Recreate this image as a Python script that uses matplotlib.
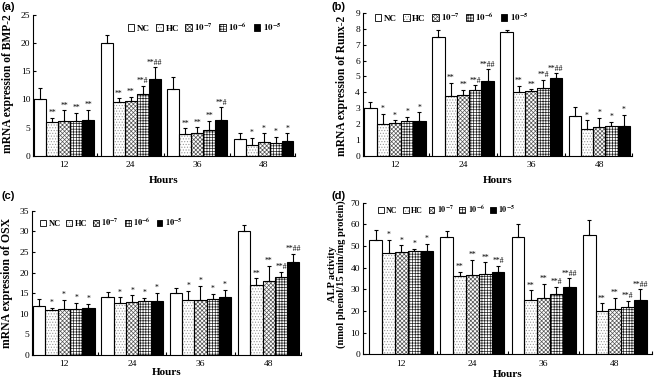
import matplotlib
matplotlib.use("Agg")
import matplotlib.pyplot as plt
from matplotlib.patches import Patch
import numpy as np

plt.rcParams['font.family'] = ['Liberation Serif', 'DejaVu Serif']
plt.rcParams['mathtext.fontset'] = 'stix'
plt.rcParams['hatch.linewidth'] = 0.5

hours = ["12", "24", "36", "48"]
series = ["NC", "HC", r"$\mathbf{10^{-7}}$", r"$\mathbf{10^{-6}}$", r"$\mathbf{10^{-5}}$"]

# values [time][series]
bmp_vals = [[10, 6.0, 6.1, 6.2, 6.4],
            [20, 9.6, 9.8, 11.0, 13.6],
            [11.9, 3.9, 4.0, 4.6, 6.4],
            [3.0, 2.0, 2.4, 2.3, 2.6]]
bmp_err = [[2.0, 0.8, 2.0, 1.4, 1.8],
           [1.5, 0.6, 0.7, 1.4, 2.1],
           [2.0, 1.0, 1.1, 1.6, 2.2],
           [1.0, 1.2, 1.6, 1.1, 1.4]]
bmp_sig = [["", "**", "**", "**", "**"],
           ["", "**", "**", "**#", "**##"],
           ["", "**", "**", "**", "**#"],
           ["", "*", "*", "*", "*"]]

runx_vals = [[3.0, 2.0, 2.1, 2.2, 2.2],
             [7.5, 3.8, 3.85, 4.15, 4.7],
             [7.8, 4.0, 4.1, 4.25, 4.9],
             [2.5, 1.7, 1.8, 1.9, 1.9]]
runx_err = [[0.4, 0.65, 0.15, 0.25, 0.55],
            [0.45, 0.8, 0.3, 0.3, 0.75],
            [0.1, 0.4, 0.1, 0.55, 0.3],
            [0.6, 0.55, 0.6, 0.25, 0.7]]
runx_sig = [["", "*", "*", "*", "*"],
            ["", "**", "**", "**#", "**##"],
            ["", "**", "**", "**#", "**##"],
            ["", "*", "*", "*", "*"]]

osx_vals = [[12, 11.0, 11.2, 11.2, 11.4],
            [14, 12.7, 12.9, 13.1, 13.1],
            [15, 13.3, 13.4, 13.7, 14.0],
            [30, 17.0, 18.0, 19.0, 22.5]]
osx_err = [[1.6, 0.4, 2.2, 1.4, 1.0],
           [1.2, 1.3, 1.6, 0.8, 2.0],
           [1.3, 2.3, 3.4, 1.2, 1.8],
           [1.5, 1.6, 3.6, 1.2, 2.0]]
osx_sig = [["", "*", "*", "*", "*"],
           ["", "*", "*", "*", "*"],
           ["", "*", "*", "*", "*"],
           ["", "**", "**", "**#", "**##"]]

alp_vals = [[53, 47, 47.3, 47.5, 47.5],
            [54, 36, 36.5, 37, 38],
            [54, 25, 26, 28, 31],
            [55, 20, 21, 22, 25]]
alp_err = [[4.5, 6.0, 3.0, 1.2, 3.5],
           [3.0, 2.0, 7.0, 5.5, 3.0],
           [6.0, 4.5, 6.5, 3.0, 4.0],
           [7.0, 3.5, 5.0, 2.5, 5.0]]
alp_sig = [["", "*", "*", "*", "*"],
           ["", "**", "**", "**", "**#"],
           ["", "**", "**", "**#", "**##"],
           ["", "**", "**", "**#", "**##"]]

# style per series: (facecolor, hatch, hatch color)
styles = [("white", None, "black"),
          ("white", "......", "#9a9a9a"),
          ("white", "xxxxxxxx", "#555555"),
          ("white", "++++++", "#222222"),
          ("black", None, "black")]

fig = plt.figure(figsize=(6.61, 3.82), dpi=100)

panels = [
    dict(rect=[0.050, 0.592, 0.396, 0.369], vals=bmp_vals, err=bmp_err, sig=bmp_sig,
         ylim=25, step=5, ylabel="mRNA expression of BMP-2", xlim=(-0.47, 3.47),
         tag="(a)", tagpos=(0.003, 0.995), leg=(128/661, 1 - 27/382), legfs=6.5,
         xlpad=5, ylfs=8.3, ylpad=5, ly=0.515),
    dict(rect=[0.549, 0.592, 0.407, 0.374], vals=runx_vals, err=runx_err, sig=runx_sig,
         ylim=9, step=1, ylabel="mRNA expression of Runx-2", xlim=(-0.47, 3.48),
         tag="(b)", tagpos=(0.502, 0.995), leg=(375/661, 1 - 17/382), legfs=6.5,
         xlpad=5, ylfs=8.3, ylpad=5, ly=0.49),
    dict(rect=[0.048, 0.071, 0.407, 0.377], vals=osx_vals, err=osx_err, sig=osx_sig,
         ylim=35, step=5, ylabel="mRNA expression of OSX", xlim=(-0.47, 3.47),
         tag="(c)", tagpos=(0.003, 0.500), leg=(40/661, 1 - 222/382), legfs=6.0,
         xlpad=0, ylfs=8.5, ylpad=5, ly=0.5),
    dict(rect=[0.549, 0.073, 0.437, 0.396], vals=alp_vals, err=alp_err, sig=alp_sig,
         ylim=70, step=10, ylabel="ALP activity\n(nmol phenol/15 min/mg protein)",
         xlim=(-0.54, 3.52),
         tag="(d)", tagpos=(0.502, 0.500), leg=(378/661, 1 - 209/382), legfs=5.8,
         xlpad=1.5, ylfs=7.6, ylpad=3, ly=0.53),
]

w = 0.18
x = np.arange(len(hours))

for p in panels:
    ax = fig.add_axes(p["rect"])
    vals = np.array(p["vals"])
    err = np.array(p["err"])
    ylim = p["ylim"]
    for j in range(len(series)):
        fc, hatch, hc = styles[j]
        xs = x + (j - 2) * w
        if hatch:
            ax.bar(xs, vals[:, j], width=w, color=fc, edgecolor=hc, hatch=hatch,
                   linewidth=0, zorder=2)
            ax.bar(xs, vals[:, j], width=w, fill=False, edgecolor="black",
                   linewidth=0.8, zorder=3)
        else:
            ax.bar(xs, vals[:, j], width=w, color=fc, edgecolor="black",
                   linewidth=0.8, zorder=3)
        ax.errorbar(xs, vals[:, j], yerr=[np.zeros(len(hours)), err[:, j]],
                    fmt="none", ecolor="black", elinewidth=0.8, capsize=1.5,
                    capthick=0.8, zorder=4)
        for i in range(len(hours)):
            s = p["sig"][i][j]
            if s:
                ax.text(xs[i], vals[i, j] + err[i, j] + ylim * 0.005, s,
                        ha="center", va="bottom", fontsize=5.5, zorder=5)
    ax.set_xlim(*p["xlim"])
    ax.set_ylim(0, ylim)
    ax.set_yticks(np.arange(0, ylim + 0.001, p["step"]))
    ax.set_xticks(x)
    ax.set_xticklabels(hours)
    ax.set_xticks([0.5, 1.5, 2.5, p["xlim"][1]], minor=True)
    ax.tick_params(axis="x", which="major", length=0, labelsize=6.8, pad=4)
    ax.tick_params(axis="x", which="minor", length=2.5, direction="in", width=0.8)
    ax.tick_params(axis="y", length=2.5, direction="in", labelsize=6.8, width=0.8, pad=2)
    for s in ["top", "right"]:
        ax.spines[s].set_visible(False)
    for s in ["left", "bottom"]:
        ax.spines[s].set_linewidth(0.8)
    ax.set_xlabel("Hours", fontsize=8, fontweight="bold", labelpad=p["xlpad"])
    ax.set_ylabel(p["ylabel"], fontsize=p["ylfs"], fontweight="bold",
                  labelpad=p["ylpad"], linespacing=1.0)
    ax.yaxis.label.set_y(p["ly"])
    fig.text(p["tagpos"][0], p["tagpos"][1], p["tag"], fontsize=8, fontweight="bold",
             family="Liberation Sans", ha="left", va="top")
    handles = []
    for k in range(len(series)):
        fc, hatch, hc = styles[k]
        if hatch:
            h = (Patch(facecolor=fc, edgecolor=hc, hatch=hatch, linewidth=0),
                 Patch(fill=False, edgecolor="black", linewidth=0.6))
        else:
            h = Patch(facecolor=fc, edgecolor="black", linewidth=0.6)
        handles.append(h)
    ax.legend(handles, series, loc="center left", bbox_to_anchor=p["leg"],
              bbox_transform=fig.transFigure, ncol=5, frameon=False,
              handlelength=0.7, handleheight=0.7, handletextpad=0.3,
              columnspacing=0.7, borderpad=0, borderaxespad=0,
              prop={"size": p["legfs"], "weight": "bold",
                    "family": "Liberation Serif"})

fig.savefig("out.png", dpi=100)
